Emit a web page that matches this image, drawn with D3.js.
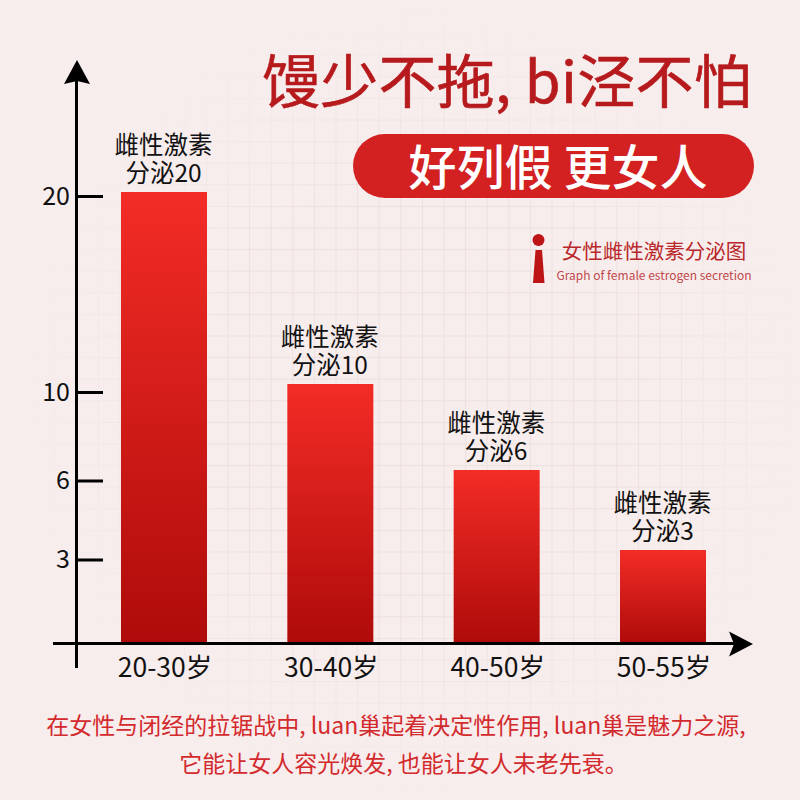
<!DOCTYPE html>
<html>
<head>
<meta charset="utf-8">
<script src="https://cdn.jsdelivr.net/npm/d3@7"></script>
<style>
  html, body { margin: 0; padding: 0; background: #f8eded; }
  text { font-family: "Noto Sans CJK SC", "Noto Sans", sans-serif; }
</style>
</head>
<body>
<svg id="chart" width="800" height="800"></svg>
<script>
// chart data
var ageGroups = ['20-30岁', '30-40岁', '40-50岁', '50-55岁'];
var secretion = [20, 10, 6, 3];
var yTicks = [20, 10, 6, 3];
var barLabelTop = '雌性激素';
var barLabelBottom = '分泌';
var title = '馒少不拖, bi泾不怕';
var badge = '好列假 更女人';
var legendCn = '女性雌性激素分泌图';
var legendEn = 'Graph of female estrogen secretion';
var footLines = [
    '在女性与闭经的拉锯战中, luan巢起着决定性作用, luan巢是魅力之源,',
    '它能让女人容光焕发, 也能让女人未老先衰。'
];

var svg = d3.select('#chart');
var defs = svg.append('defs');

svg.append('rect').attr('width', 800).attr('height', 800).attr('fill', '#f8eded');

// faint paper grid, fades out towards the edges of the page
var fade = defs.append('radialGradient')
    .attr('id', 'gridFade')
    .attr('gradientUnits', 'userSpaceOnUse')
    .attr('cx', 420).attr('cy', 400).attr('r', 400);
fade.append('stop').attr('offset', '55%').attr('stop-color', '#fff');
fade.append('stop').attr('offset', '100%').attr('stop-color', '#000');
defs.append('mask').attr('id', 'gridMask')
    .attr('maskUnits', 'userSpaceOnUse')
    .attr('x', 0).attr('y', 0).attr('width', 800).attr('height', 800)
    .append('rect').attr('width', 800).attr('height', 800).attr('fill', 'url(#gridFade)');

var grid = svg.append('g')
    .attr('mask', 'url(#gridMask)')
    .attr('stroke', '#eedfe0')
    .attr('stroke-width', 1);
d3.range(12, 800, 21.6).forEach(function(p){
    grid.append('line').attr('x1', p).attr('x2', p).attr('y1', 0).attr('y2', 800);
    grid.append('line').attr('x1', 0).attr('x2', 800).attr('y1', p).attr('y2', p);
})

// gradient for the bars
var grad = defs.append('linearGradient')
    .attr('id', 'barFill')
    .attr('x1', 0).attr('x2', 0).attr('y1', 0).attr('y2', 1);
grad.append('stop').attr('offset', '0%').attr('stop-color', '#f32c26');
grad.append('stop').attr('offset', '100%').attr('stop-color', '#ae0b0a');

// the axis is not evenly spaced in the original, so scales are piecewise
var x = d3.scaleBand().domain(ageGroups).range([121, 706]).paddingInner(0.483);
var yBar = d3.scaleLinear().domain([0, 3, 6, 10, 20]).range([643, 550, 470, 384, 192]);
var yTick = d3.scaleLinear().domain([0, 3, 6, 10, 20]).range([643, 559.5, 480.5, 392, 196]);

// bars
svg.selectAll('rect.bar')
    .data(secretion)
    .enter().append('rect')
    .attr('class', 'bar')
    .attr('x', function(d, i){ return x(ageGroups[i]); })
    .attr('y', function(d){ return yBar(d); })
    .attr('width', x.bandwidth())
    .attr('height', function(d){ return yBar(0) - yBar(d); })
    .attr('fill', 'url(#barFill)');

// bar labels
var labels = svg.selectAll('g.barLabel')
    .data(secretion)
    .enter().append('g')
    .attr('class', 'barLabel')
    .attr('text-anchor', 'middle')
    .attr('fill', '#111')
    .attr('font-size', 24.5);
labels.append('text')
    .attr('x', function(d, i){ return x(ageGroups[i]) + x.bandwidth() / 2 - 0.5; })
    .attr('y', function(d){ return yBar(d) - 38; })
    .text(barLabelTop);
labels.append('text')
    .attr('x', function(d, i){ return x(ageGroups[i]) + x.bandwidth() / 2 - 0.5; })
    .attr('y', function(d){ return yBar(d) - 10; })
    .text(function(d){ return barLabelBottom + d; });

// y axis
var yAxis = d3.axisLeft(yTick).tickValues(yTicks).tickSize(0).tickPadding(6);
var yG = svg.append('g').attr('transform', 'translate(76,0)').call(yAxis);
yG.select('.domain').remove();
yG.selectAll('text').attr('font-size', 25).attr('fill', '#111');
yG.selectAll('.tick').append('line')
    .attr('x1', 0).attr('x2', 27)
    .attr('stroke', '#000').attr('stroke-width', 3);
svg.append('line').attr('x1', 76.5).attr('x2', 76.5).attr('y1', 75).attr('y2', 668)
    .attr('stroke', '#000').attr('stroke-width', 3);
svg.append('path').attr('d', 'M77,60L90,84L77,81L64,84Z').attr('fill', '#000');

// x axis
var xAxis = d3.axisBottom(x).tickSize(0).tickPadding(15);
var xG = svg.append('g').attr('transform', 'translate(1,643)').call(xAxis);
xG.select('.domain').remove();
xG.selectAll('text').attr('font-size', 26.5).attr('fill', '#111');
svg.append('line').attr('x1', 53).attr('x2', 740).attr('y1', 643.5).attr('y2', 643.5)
    .attr('stroke', '#000').attr('stroke-width', 3);
svg.append('path').attr('d', 'M753,644L729,631.5L734,644L729,656.5Z').attr('fill', '#000');

// heading
svg.append('text').attr('x', 507).attr('y', 103)
    .attr('text-anchor', 'middle').attr('font-size', 58).attr('font-weight', 400)
    .attr('stroke', '#b61a1c').attr('stroke-width', 0.6)
    .attr('letter-spacing', 0.3)
    .attr('fill', '#b61a1c').text(title);

svg.append('rect').attr('x', 353).attr('y', 134).attr('width', 401).attr('height', 64)
    .attr('rx', 32).attr('fill', '#d32122');
svg.append('text').attr('x', 558).attr('y', 185)
    .attr('text-anchor', 'middle').attr('font-size', 48).attr('font-weight', 500)
    .attr('fill', '#fff').text(badge);

// small legend with the pin mark
svg.append('circle').attr('cx', 538.5).attr('cy', 240).attr('r', 6).attr('fill', '#bd1416');
svg.append('path').attr('d', 'M535.5,250L542,250L544.5,283L533,283Z').attr('fill', '#bd1416');
svg.append('text').attr('x', 654).attr('y', 258.5)
    .attr('text-anchor', 'middle').attr('font-size', 20.5).attr('fill', '#b8282a').text(legendCn);
svg.append('text').attr('x', 654).attr('y', 280)
    .attr('text-anchor', 'middle').attr('font-size', 12).attr('fill', '#c0474a').text(legendEn);

// footer
svg.selectAll('text.foot')
    .data(footLines)
    .enter().append('text')
    .attr('class', 'foot')
    .attr('x', function(d, i){ return i === 0 ? 396 : 403.5; })
    .attr('y', function(d, i){ return 734 + i * 38; })
    .attr('text-anchor', 'middle')
    .attr('font-size', 23)
    .attr('fill', '#d32a2d')
    .text(function(d){ return d; });
</script>
</body>
</html>
